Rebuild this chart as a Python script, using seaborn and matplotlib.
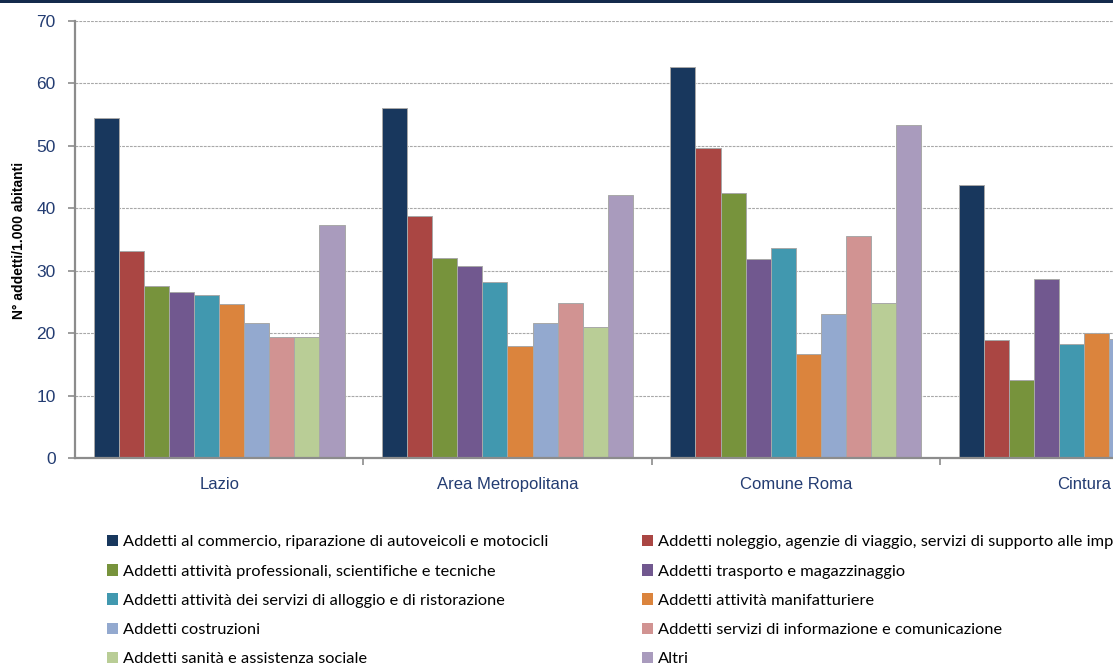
import matplotlib
matplotlib.use("Agg")
import matplotlib.pyplot as plt
from matplotlib.patches import Patch, Rectangle
import seaborn as sns
import pandas as pd

# Territorial areas (x categories)
regions = ["Lazio", "Area Metropolitana", "Comune Roma", "Cintura"]

# Employment sectors (one bar series each)
sectors = [
    "Addetti al commercio, riparazione di autoveicoli e motocicli",
    "Addetti noleggio, agenzie di viaggio, servizi di supporto alle imprese",
    "Addetti attività professionali, scientifiche e tecniche",
    "Addetti trasporto e magazzinaggio",
    "Addetti attività dei servizi di alloggio e di ristorazione",
    "Addetti attività manifatturiere",
    "Addetti costruzioni",
    "Addetti servizi di informazione e comunicazione",
    "Addetti sanità e assistenza sociale",
    "Altri",
]

colors = ["#18375d", "#aa4643", "#77933c", "#71588f", "#4198af",
          "#db843d", "#93a9cf", "#d19392", "#b9cd96", "#a99bbd"]

# Employees per 1,000 inhabitants, one list per area (sector order as above)
lazio = [54.4, 33.1, 27.5, 26.6, 26.1, 24.6, 21.7, 19.4, 19.4, 37.3]
area_metropolitana = [56.1, 38.8, 32.0, 30.8, 28.2, 17.9, 21.7, 24.9, 21.0, 42.2]
comune_roma = [62.7, 49.7, 42.5, 31.9, 33.7, 16.6, 23.0, 35.5, 24.9, 53.4]
cintura = [43.7, 18.9, 12.5, 28.7, 18.2, 20.0, 19.1]

rows = []
for region, vals in zip(regions, [lazio, area_metropolitana, comune_roma, cintura]):
    for sector, v in zip(sectors, vals):
        rows.append({"area": region, "settore": sector, "valore": v})
df = pd.DataFrame(rows)

sns.set_theme(style="white")
plt.rcParams["font.family"] = ["Liberation Sans", "DejaVu Sans"]

W, H = 1113, 666
fig = plt.figure(figsize=(W / 100, H / 100), dpi=100)
fig.patch.set_facecolor("white")

# Plot area extends past the right edge of the canvas
left_px, top_px, bottom_px, group_px = 75, 21, 458, 288.3
ax = fig.add_axes([left_px / W, (H - bottom_px) / H,
                   group_px * len(regions) / W, (bottom_px - top_px) / H])

sns.barplot(data=df, x="area", y="valore", hue="settore",
            order=regions, hue_order=sectors,
            palette=dict(zip(sectors, colors)), width=0.87,
            edgecolor="#a8a8a8", linewidth=0.7, saturation=1,
            legend=False, ax=ax)

ax.set_xlim(-0.5, len(regions) - 0.5)
ax.set_ylim(0, 70)
ax.set_yticks(range(0, 71, 10))
ax.set_axisbelow(True)
ax.yaxis.grid(True, color="#a8a8a8", linestyle=(0, (2.5, 1)), linewidth=0.8)
ax.xaxis.grid(False)

# Group labels on minor positions, separator ticks between groups
ax.set_xticks([i + 0.5 for i in range(len(regions))])
ax.set_xticklabels([])
ax.set_xticks(range(len(regions)), minor=True)
ax.set_xticklabels(regions, minor=True)
ax.tick_params(axis="x", which="major", length=5, width=1.2, color="#8c8c8c",
               direction="out", bottom=True)
ax.tick_params(axis="x", which="minor", length=0, pad=14, labelsize=12,
               labelcolor="#233c72")
ax.tick_params(axis="y", length=5, width=1.2, color="#8c8c8c", direction="out",
               left=True, pad=9, labelsize=12.5, labelcolor="#233c72")

for side in ["top", "right"]:
    ax.spines[side].set_visible(False)
for side in ["left", "bottom"]:
    ax.spines[side].set_color("#8c8c8c")
    ax.spines[side].set_linewidth(1.6)

ax.set_xlabel("")
ax.set_ylabel("")
fig.text(19 / W, 1 - 240 / H, "N° addetti/1.000 abitanti", rotation=90,
         ha="center", va="center", fontsize=10, fontweight="bold", color="black")

# Legend: two columns, filled row by row
handles = [Patch(facecolor=c, edgecolor="none") for c in colors]
leg_kw = dict(frameon=False, loc="upper left",
              handlelength=0.7, handleheight=0.7, handletextpad=0.3,
              labelspacing=0.9, borderaxespad=0, borderpad=0,
              prop={"family": ["Lato", "DejaVu Sans"], "size": 11.8})
leg1 = fig.legend([handles[i] for i in range(0, 10, 2)],
                  [sectors[i] for i in range(0, 10, 2)],
                  bbox_to_anchor=(107 / W, 1 - 535 / H), **leg_kw)
leg2 = fig.legend([handles[i] for i in range(1, 10, 2)],
                  [sectors[i] for i in range(1, 10, 2)],
                  bbox_to_anchor=(642 / W, 1 - 535 / H), **leg_kw)
for leg in (leg1, leg2):
    for t in leg.get_texts():
        t.set_color("black")

# Dark band along the top edge
fig.add_artist(Rectangle((0, 1 - 2.5 / H), 1, 2.5 / H, transform=fig.transFigure,
                         facecolor="#142a4c", edgecolor="none"))

fig.savefig("out.png", dpi=100)
